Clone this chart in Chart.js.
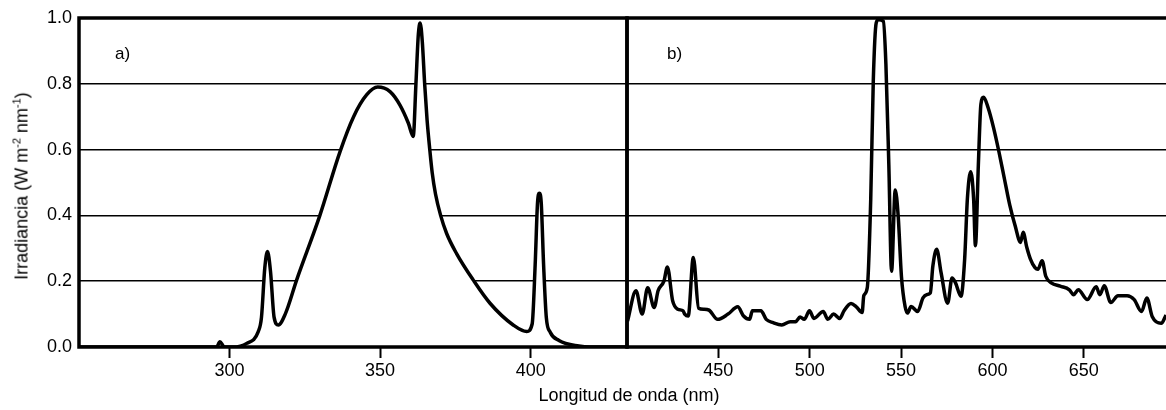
<!doctype html>
<html><head><meta charset="utf-8">
<title>Irradiancia</title>
<script src="https://cdn.jsdelivr.net/npm/chart.js"></script>
<style>
  body { margin: 0; background: #fff; font-family: "Liberation Sans", Arial, sans-serif; color: #000; }
  #wrap { position: relative; width: 1166px; height: 410px; overflow: hidden; }
  #boxA { position: absolute; left: 0; top: 0; width: 632px; height: 410px; }
  #boxB { position: absolute; left: 620px; top: 0; width: 546px; height: 410px; }
  .lbl { position: absolute; font-size: 17px; line-height: 17px; }
  #ytitle { position: absolute; left: 22px; top: 186px; font-size: 18px; white-space: nowrap;
            transform: translate(-50%, -50%) rotate(-90deg); }
  #ytitle sup { font-size: 11px; vertical-align: 7px; line-height: 0; }
  #xtitle { position: absolute; left: 629px; top: 386px; font-size: 18px; line-height: 18px;
            transform: translateX(-50%); white-space: nowrap; }
</style>
</head><body>
<div id="wrap">
  <div id="boxA"><canvas id="chartA"></canvas></div>
  <div id="boxB"><canvas id="chartB"></canvas></div>
  <div class="lbl" style="left:115px;top:45px">a)</div>
  <div class="lbl" style="left:667px;top:45px">b)</div>
  <div id="ytitle">Irradiancia (W m<sup>-2</sup> nm<sup>-1</sup>)</div>
  <div id="xtitle">Longitud de onda (nm)</div>
</div>
<script>
// panel a) wavelength (nm) and irradiance
const A_WL = [250, 294, 295.7, 296.8, 297.9, 298.8, 301.1, 305.7, 309.5, 310.6,
  311.7, 312.6, 313.6, 314.8, 316.2, 318.5, 322.3, 330, 336.7, 341.2,
  345.5, 349.2, 353.3, 356.6, 359.4, 361, 361.9, 362.7, 363.3, 364,
  364.8, 365.6, 366.5, 367.3, 368.4, 370.1, 372.1, 375.4, 380.9, 386.5,
  394.2, 398.7, 400.5, 401.5, 402.3, 402.9, 403.5, 404.3, 405.2, 406.5,
  409.4, 416, 420, 432];
const A_IRR = [0, 0, 0, 0.016, 0.003, 0, 0, 0.011, 0.046, 0.09,
  0.24, 0.29, 0.23, 0.09, 0.067, 0.1, 0.204, 0.40, 0.594, 0.70,
  0.766, 0.79, 0.776, 0.735, 0.68, 0.64, 0.80, 0.95, 0.985, 0.93,
  0.80, 0.69, 0.60, 0.53, 0.465, 0.40, 0.345, 0.284, 0.204, 0.133,
  0.067, 0.047, 0.07, 0.25, 0.44, 0.467, 0.44, 0.25, 0.09, 0.045,
  0.02, 0.003, 0, 0];

// panel b)
const B_WL = [400.3, 404.9, 408.3, 411.3, 414.9, 417, 420.2, 422.1, 425, 427.8,
  430.7, 431.6, 433.5, 436.3, 439.2, 442, 444.9, 449.6, 455.3, 460.6,
  463.8, 467.1, 468.6, 473.3, 476.2, 480, 484.7, 489.4, 492.3, 494.7,
  497, 499.9, 502.3, 507.4, 509.9, 513.1, 516.4, 518.8, 522.6, 525.5,
  528.7, 529.6, 531.5, 533.4, 534.8, 536.4, 537.7, 540.3, 541.7, 543.3,
  544.8, 546.8, 548.4, 550.2, 552.2, 553.5, 555.5, 559.1, 562, 564,
  566, 567.4, 569.5, 571.9, 575.5, 577.9, 579.8, 582.8, 584.8, 586.3,
  588.1, 589.7, 590.7, 592.3, 593.7, 595.2, 597.6, 600.6, 603.5, 606.5,
  609.5, 612.4, 615.4, 616.8, 618.8, 620.8, 623.3, 624.9, 627.2, 629.2,
  632.2, 637.1, 642.1, 644.4, 647, 651.9, 656.8, 658.8, 661.2, 664.8,
  668.7, 673.7, 677.6, 681.6, 684.5, 687.5, 692.4, 695];
const B_IRR = [0.079, 0.171, 0.10, 0.18, 0.12, 0.171, 0.20, 0.243, 0.14, 0.115,
  0.11, 0.10, 0.094, 0.272, 0.118, 0.115, 0.112, 0.084, 0.10, 0.122,
  0.094, 0.084, 0.11, 0.11, 0.084, 0.074, 0.067, 0.077, 0.077, 0.091,
  0.084, 0.11, 0.087, 0.108, 0.084, 0.10, 0.087, 0.11, 0.132, 0.122,
  0.105, 0.156, 0.18, 0.45, 0.81, 0.985, 0.995, 0.99, 0.86, 0.554,
  0.23, 0.477, 0.40, 0.215, 0.123, 0.103, 0.123, 0.108, 0.149, 0.159,
  0.164, 0.246, 0.297, 0.226, 0.133, 0.21, 0.195, 0.154, 0.267, 0.451,
  0.533, 0.451, 0.308, 0.554, 0.738, 0.759, 0.728, 0.667, 0.595, 0.513,
  0.431, 0.369, 0.318, 0.349, 0.303, 0.267, 0.241, 0.236, 0.262, 0.215,
  0.195, 0.185, 0.174, 0.159, 0.174, 0.144, 0.183, 0.159, 0.186, 0.135,
  0.156, 0.156, 0.144, 0.108, 0.149, 0.092, 0.072, 0.097];

const X_TICKS_A = [300, 350, 400];
const X_TICKS_B = [450, 500, 550, 600, 650];
const Y_TICKS = [0, 0.2, 0.4, 0.6, 0.8, 1.0];

Chart.defaults.font.family = '"Liberation Sans", Arial, sans-serif';
Chart.defaults.color = '#000';

// thick frame round the plot area; b) has no right side (cut off)
function framePlugin(sides) {
  return {
    id: 'frame',
    afterDraw(chart) {
      const { ctx, chartArea: a } = chart;
      ctx.save();
      ctx.strokeStyle = '#000';
      ctx.lineWidth = 3.5;
      ctx.lineCap = 'square';
      ctx.beginPath();
      if (sides.includes('t')) { ctx.moveTo(a.left, a.top); ctx.lineTo(a.right, a.top); }
      if (sides.includes('b')) { ctx.moveTo(a.left, a.bottom); ctx.lineTo(a.right, a.bottom); }
      if (sides.includes('l')) { ctx.moveTo(a.left, a.top); ctx.lineTo(a.left, a.bottom); }
      if (sides.includes('r')) { ctx.moveTo(a.right, a.top); ctx.lineTo(a.right, a.bottom); }
      ctx.stroke();
      ctx.restore();
    }
  };
}

function makeChart(id, wl, irr, xmin, xmax, xticks, opts) {
  return new Chart(document.getElementById(id), {
    type: 'line',
    data: {
      datasets: [{
        data: wl.map((x, i) => ({ x: x, y: irr[i] })),
        borderColor: '#000',
        borderWidth: 3.5,
        pointRadius: 0,
        cubicInterpolationMode: 'monotone',
        fill: opts.fill ? 'origin' : false,
        backgroundColor: '#fff'
      }]
    },
    options: {
      responsive: true,
      maintainAspectRatio: false,
      animation: false,
      layout: { padding: { top: 18, right: opts.padRight, left: 0, bottom: 0 } },
      plugins: { legend: { display: false }, tooltip: { enabled: false } },
      scales: {
        x: {
          type: 'linear', min: xmin, max: xmax,
          afterBuildTicks: s => { s.ticks = xticks.map(v => ({ value: v })); },
          afterFit: s => { s.height = 63; },
          border: { display: false },
          grid: { drawOnChartArea: false, drawTicks: true, tickLength: 11, tickWidth: 2, tickColor: '#000' },
          ticks: { font: { size: 18 }, padding: 2, maxRotation: 0 }
        },
        y: {
          min: 0, max: 1,
          afterBuildTicks: s => { s.ticks = Y_TICKS.map(v => ({ value: v })); },
          afterFit: s => { s.width = opts.yWidth; },
          border: { display: false },
          grid: { color: '#000', lineWidth: 1.5, drawTicks: false },
          ticks: { display: opts.yLabels, font: { size: 18 }, padding: 7, callback: v => v.toFixed(1) }
        }
      }
    },
    plugins: [framePlugin(opts.sides)]
  });
}

makeChart('chartA', A_WL, A_IRR, 250, 432, X_TICKS_A,
  { fill: true, padRight: 5, yWidth: 79, yLabels: true, sides: 'tblr' });
makeChart('chartB', B_WL, B_IRR, 400, 695, X_TICKS_B,
  { fill: false, padRight: 0, yWidth: 7, yLabels: false, sides: 'tbl' });
</script>
</body></html>
